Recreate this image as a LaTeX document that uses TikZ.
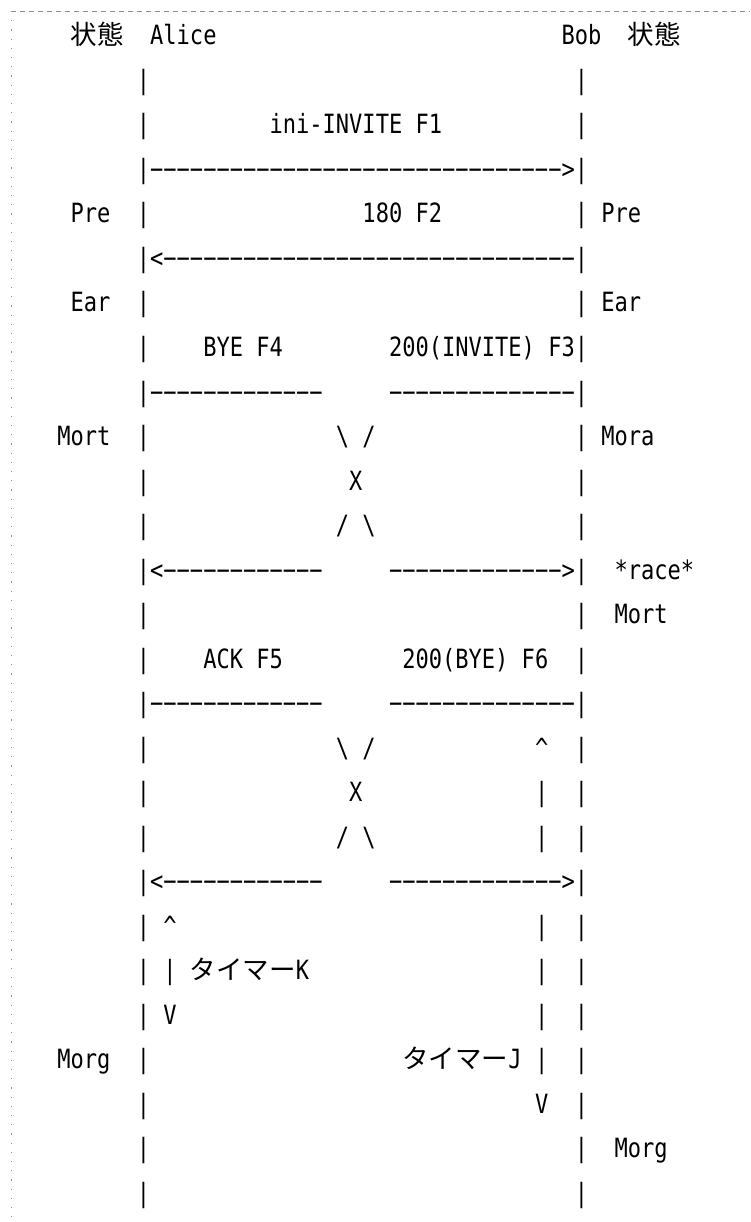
\documentclass[tikz,border=0pt]{standalone}
\usepackage{fontspec}
\newfontfamily\ascfont[FakeStretch=0.8318]{DejaVu Sans Mono}
\newfontfamily\jpfont{Noto Sans CJK JP}
\newcommand\cx[1]{136.7+13.27*(#1)}
\newcommand\ry[1]{45+44.5*((#1)-1)}
\newcommand\dashrun[1]{\foreach \i in {1,...,#1}{−}}
\newcommand\asc[1]{{\ascfont\fontsize{26.5}{26.5}\selectfont #1}}

\begin{document}
\begin{tikzpicture}[x=1pt,y=-1pt,
    txt/.style={font=\ascfont\fontsize{26.5}{26.5}\selectfont, inner sep=0pt, anchor=base west},
    jtxt/.style={font=\jpfont\fontsize{26.5}{26.5}\selectfont, inner sep=0pt, anchor=base west},
    frame/.style={draw=black!45, line width=0.8pt}]
    \useasboundingbox (0,0) rectangle (750,1222);
    \draw[frame, dash pattern=on 5pt off 4pt] (11,11) -- (750,11);
    \draw[frame, dash pattern=on 1.2pt off 8pt] (11,11) -- (11,1222);

    \node[jtxt] (stA) at ({\cx{-5}},{\ry{1}}) {状態};
    \node[txt] (alice) at ({\cx{1}},{\ry{1}}) {Alice};
    \node[txt] (bob) at ({\cx{32}},{\ry{1}}) {Bob};
    \node[jtxt] (stB) at ({\cx{37}},{\ry{1}}) {状態};

    \foreach \r in {2,3,5,7,8,10,11,12,14,15,17,18,19,21,22,23,24,25,26,27} {
        \node[txt] (a\r) at ({\cx{0}},{\ry{\r}}) {|};
    }
    \foreach \r in {2,3,5,7,10,11,12,14,15,17,18,19,21,22,23,24,25,26,27} {
        \node[txt] (b\r) at ({\cx{33}},{\ry{\r}}) {|};
    }

    \node[txt] (f1) at ({\cx{10}},{\ry{3}}) {ini-INVITE F1};
    \node[txt] (f1l) at ({\cx{0}},{\ry{4}}) {|\dashrun{31}>|};
    \node[txt] (preA) at ({\cx{-5}},{\ry{5}}) {Pre};
    \node[txt] (f2) at ({\cx{17}},{\ry{5}}) {180 F2};
    \node[txt] (preB) at ({\cx{35}},{\ry{5}}) {Pre};
    \node[txt] (f2l) at ({\cx{0}},{\ry{6}}) {|<\dashrun{31}|};
    \node[txt] (earA) at ({\cx{-5}},{\ry{7}}) {Ear};
    \node[txt] (earB) at ({\cx{35}},{\ry{7}}) {Ear};

    \node[txt] (f4) at ({\cx{5}},{\ry{8}}) {BYE F4};
    \node[txt] (f3) at ({\cx{19}},{\ry{8}}) {200(INVITE) F3|};
    \node[txt] (mortA) at ({\cx{-6}},{\ry{10}}) {Mort};
    \node[txt] (mora) at ({\cx{35}},{\ry{10}}) {Mora};
    \node[txt] (race) at ({\cx{36}},{\ry{13}}) {*race*};
    \node[txt] (mortB) at ({\cx{36}},{\ry{14}}) {Mort};

    \node[txt] (f5) at ({\cx{5}},{\ry{15}}) {ACK F5};
    \node[txt] (f6) at ({\cx{20}},{\ry{15}}) {200(BYE) F6};

    \foreach \n/\r in {x/9,y/16} {
        \node[txt] (\n l1) at ({\cx{0}},{\ry{\r}}) {|\dashrun{13}};
        \node[txt] (\n r1) at ({\cx{19}},{\ry{\r}}) {\dashrun{14}|};
        \node[txt] (\n a) at ({\cx{15}},{\ry{\r+1}}) {\textbackslash};
        \node[txt] (\n b) at ({\cx{17}},{\ry{\r+1}}) {/};
        \node[txt] (\n c) at ({\cx{16}},{\ry{\r+2}}) {X};
        \node[txt] (\n d) at ({\cx{15}},{\ry{\r+3}}) {/};
        \node[txt] (\n e) at ({\cx{17}},{\ry{\r+3}}) {\textbackslash};
        \node[txt] (\n l2) at ({\cx{0}},{\ry{\r+4}}) {|<\dashrun{12}};
        \node[txt] (\n r2) at ({\cx{19}},{\ry{\r+4}}) {\dashrun{13}>|};
    }

    \node[txt] (tjUp) at ({\cx{30}},{\ry{17}}) {\^{}};
    \foreach \r in {18,19,21,22,23,24} {
        \node[txt] (tj\r) at ({\cx{30}},{\ry{\r}}) {|};
    }
    \node[txt] (tjDown) at ({\cx{30}},{\ry{25}}) {V};

    \node[txt] (tkUp) at ({\cx{2}},{\ry{21}}) {\^{}};
    \node[txt] (tk22) at ({\cx{2}},{\ry{22}}) {|};
    \node[txt] (tkDown) at ({\cx{2}},{\ry{23}}) {V};
    \node[jtxt] (timerK) at ({\cx{4}},{\ry{22}}) {タイマー\asc{K}};
    \node[jtxt] (timerJ) at ({\cx{20}},{\ry{24}}) {タイマー\asc{J}};

    \node[txt] (morgA) at ({\cx{-6}},{\ry{24}}) {Morg};
    \node[txt] (morgB) at ({\cx{36}},{\ry{26}}) {Morg};
\end{tikzpicture}
\end{document}
